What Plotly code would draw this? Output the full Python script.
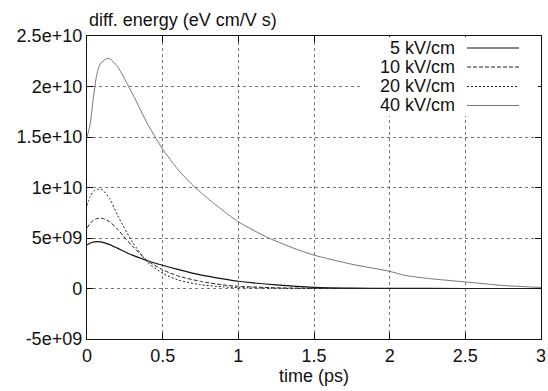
import plotly.graph_objects as go

# ---- data ----
t5 = [0, 0.03, 0.07, 0.1, 0.15, 0.2, 0.3, 0.4, 0.5, 0.6, 0.75, 0.9, 1.0, 1.1, 1.25, 1.5, 1.75, 2.0, 2.5, 3.0]
e5 = [4.3e9, 4.55e9, 4.65e9, 4.6e9, 4.35e9, 4.0e9, 3.3e9, 2.75e9, 2.3e9, 1.9e9, 1.35e9, 0.95e9, 0.72e9, 0.55e9, 0.35e9, 0.12e9, 0.04e9, 0.01e9, 0.0, 0.0]

t10 = [0, 0.03, 0.06, 0.1, 0.15, 0.2, 0.3, 0.4, 0.5, 0.6, 0.75, 0.9, 1.0, 1.25, 1.5, 2.0, 3.0]
e10 = [6.0e9, 6.6e9, 6.9e9, 6.95e9, 6.6e9, 5.9e9, 4.2e9, 2.75e9, 1.85e9, 1.25e9, 0.7e9, 0.35e9, 0.22e9, 0.07e9, 0.02e9, 0.0, 0.0]

t20 = [0, 0.02, 0.05, 0.08, 0.1, 0.15, 0.2, 0.3, 0.4, 0.5, 0.6, 0.75, 0.9, 1.0, 1.25, 1.5, 2.0, 3.0]
e20 = [8.2e9, 9.1e9, 9.7e9, 9.85e9, 9.8e9, 8.9e9, 7.3e9, 4.6e9, 2.6e9, 1.5e9, 0.85e9, 0.38e9, 0.16e9, 0.09e9, 0.02e9, 0.0, 0.0, 0.0]

t40 = [0, 0.02, 0.04, 0.065, 0.09, 0.14, 0.2, 0.3, 0.4, 0.5, 0.6, 0.7, 0.8, 0.9, 1.0, 1.2, 1.4, 1.5, 1.75, 2.0, 2.1, 2.25, 2.5, 2.75, 3.0]
e40 = [1.5e10, 1.62e10, 1.86e10, 2.12e10, 2.23e10, 2.28e10, 2.2e10, 1.93e10, 1.63e10, 1.38e10, 1.18e10, 1.02e10, 0.89e10, 0.77e10, 0.66e10, 0.5e10, 0.38e10, 0.33e10, 0.24e10, 0.17e10, 0.13e10, 0.1e10, 0.065e10, 0.03e10, 0.01e10]

labels = ["5 kV/cm", "10 kV/cm", "20 kV/cm", "40 kV/cm"]
series = [(t5, e5), (t10, e10), (t20, e20), (t40, e40)]
styles = [
    dict(color="#111", width=1.2, dash="solid"),
    dict(color="#222", width=1.0, dash="4px,2px"),
    dict(color="#222", width=1.0, dash="2px,2px"),
    dict(color="#777", width=1.0, dash="solid"),
]

x_ticks = [0, 0.5, 1, 1.5, 2, 2.5, 3]
x_ticktext = ["0", "0.5", "1", "1.5", "2", "2.5", "3"]
y_ticks = [-5e9, 0, 5e9, 1e10, 1.5e10, 2e10, 2.5e10]
y_ticktext = ["-5e+09", "0", "5e+09", "1e+10", "1.5e+10", "2e+10", "2.5e+10"]

FONT = "Liberation Sans, Arial, sans-serif"
FS = 18

fig = go.Figure()
for (tx, ey), lab, st in zip(series, labels, styles):
    fig.add_trace(go.Scatter(x=tx, y=ey, mode="lines", name=lab,
                             line=dict(shape="spline", smoothing=0.6, **st),
                             showlegend=False, hoverinfo="skip"))

# gnuplot-style legend (text right, sample line to the right) with white box
fig.add_shape(type="rect", xref="paper", yref="paper",
              x0=(362 - 87) / 454, x1=(538 - 87) / 454,
              y0=(339 - 116) / 303, y1=(339 - 37) / 303,
              fillcolor="white", line=dict(width=0), layer="above")
row_y = [48, 67, 86.5, 105.5]
for lab, st, ry in zip(labels, styles, row_y):
    yp = (339 - ry) / 303
    fig.add_annotation(xref="paper", yref="paper", x=(457 - 87) / 454, y=yp,
                       text=lab, showarrow=False, xanchor="right", yanchor="middle",
                       font=dict(family=FONT, size=FS, color="#111"))
    fig.add_shape(type="line", xref="paper", yref="paper",
                  x0=(467 - 87) / 454, x1=(519 - 87) / 454, y0=yp, y1=yp,
                  line=st, layer="above")

fig.add_annotation(xref="paper", yref="paper", x=0, y=1, yshift=4,
                   text="diff. energy (eV cm/V s)", showarrow=False,
                   xanchor="left", yanchor="bottom",
                   font=dict(family=FONT, size=FS, color="#111"))

axis_common = dict(showline=True, linecolor="#111", linewidth=1.2, mirror="ticks",
                   ticks="inside", ticklen=6, tickcolor="#111",
                   showgrid=True, gridcolor="#555", griddash="dot", gridwidth=0.8,
                   zeroline=False, automargin=False, ticklabeloverflow="allow",
                   tickfont=dict(family=FONT, size=FS, color="#111"))

fig.update_xaxes(range=[0, 3], tickvals=x_ticks, ticktext=x_ticktext,
                 title=dict(text="time (ps)", font=dict(family=FONT, size=FS, color="#111"), standoff=0),
                 **axis_common)
fig.update_yaxes(range=[-5e9, 2.5e10], tickvals=y_ticks, ticktext=y_ticktext, **axis_common)

fig.update_layout(width=548, height=391,
                  margin=dict(l=87, r=7, t=36, b=52),
                  plot_bgcolor="white", paper_bgcolor="white",
                  hovermode=False,
                  font=dict(family=FONT, size=FS, color="#111"))

fig.write_html("out.html", config={"displayModeBar": False, "staticPlot": True},
               post_script="document.body.style.margin='0';document.body.style.overflow='hidden';")
